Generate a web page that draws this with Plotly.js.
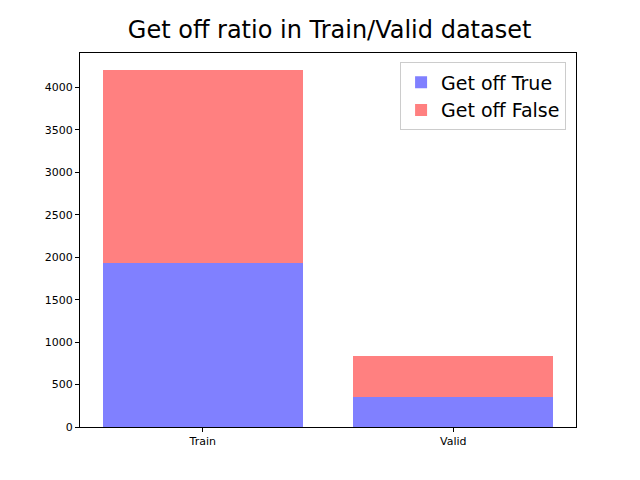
<!DOCTYPE html>
<html>
<head>
<script src="https://cdn.plot.ly/plotly-3.0.1.min.js"></script>
<style>body{margin:0}</style>
</head>
<body>
<div id="myDiv" style="width:640px;height:480px"></div>
<script>
var categories = ['Train', 'Valid'];
var getOffTrue = [1930, 358];
var getOffFalse = [2270, 478];

var axisStyle = {
  showline: true, linecolor: 'black', linewidth: 1, mirror: true,
  ticks: 'outside', ticklen: 4, tickcolor: 'black',
  showgrid: false, zeroline: false,
  tickfont: {size: 11, color: 'black'}
};

var data = [
  {x: [0, 1], y: getOffTrue, type: 'bar', name: 'Get off True',
   width: 0.8, marker: {color: '#8080ff'}},
  {x: [0, 1], y: getOffFalse, type: 'bar', name: 'Get off False',
   width: 0.8, marker: {color: '#ff8080'}}
];

var layout = {
  barmode: 'stack',
  width: 640, height: 480,
  margin: {l: 80, r: 64, t: 53, b: 53},
  font: {family: 'DejaVu Sans', color: 'black'},
  title: {text: 'Get off ratio in Train/Valid dataset', font: {size: 24}, x: 0.515, y: 0.955},
  xaxis: Object.assign({}, axisStyle, {range: [-0.49, 1.49], tickvals: [0, 1], ticktext: categories}),
  yaxis: Object.assign({}, axisStyle, {range: [0, 4406], tickvals: [0, 500, 1000, 1500, 2000, 2500, 3000, 3500, 4000]}),
  showlegend: true,
  legend: {x: 0.98, y: 0.975, xanchor: 'right', yanchor: 'top', traceorder: 'normal',
           bordercolor: '#cccccc', borderwidth: 1, font: {size: 19}},
  plot_bgcolor: 'white', paper_bgcolor: 'white'
};

Plotly.newPlot('myDiv', data, layout, {displayModeBar: false});
</script>
</body>
</html>
